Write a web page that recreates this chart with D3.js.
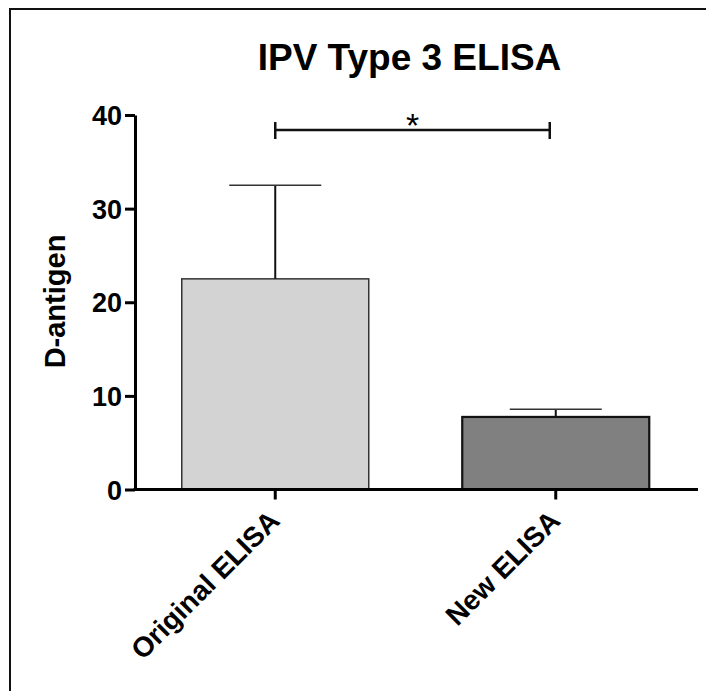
<!DOCTYPE html>
<meta charset="utf-8">
<style>
body { margin: 0; background: #fff; }
text { font-family: "Liberation Sans", Arial, Helvetica, sans-serif; font-weight: bold; fill: #000; }
</style>
<svg width="706" height="691"></svg>
<script src="https://d3js.org/d3.v7.min.js"></script>
<script>

var categories = ["Original ELISA", "New ELISA"];
var means = [22.5, 7.75];
var errors = [10.0, 0.82];
var barFills = ["#d3d3d3", "#808080"];
var yTicks = [0, 10, 20, 30, 40];

var svg = d3.select("svg");

// frame round the whole figure
svg.append("rect")
    .attr("x", 10).attr("y", 9)
    .attr("width", 760).attr("height", 760)
    .attr("fill", "none")
    .attr("stroke", "#111")
    .attr("stroke-width", 2);

var x = d3.scaleBand()
    .domain(categories)
    .range([135, 696])
    .paddingInner(1 / 3)
    .paddingOuter(1 / 6);

var y = d3.scaleLinear()
    .domain([0, 40])
    .range([489.5, 115]);

function cx(d) { return x(d) + x.bandwidth() / 2; }

// bars
svg.append("g").selectAll("rect")
    .data(categories)
    .enter().append("rect")
    .attr("x", function(d) { return x(d); })
    .attr("y", function(d, i) { return y(means[i]); })
    .attr("width", x.bandwidth())
    .attr("height", function(d, i) { return y(0) - y(means[i]); })
    .attr("fill", function(d, i) { return barFills[i]; })
    .attr("stroke", function(d, i) { return i == 0 ? "#333" : "#111"; })
    .attr("stroke-width", function(d, i) { return i == 0 ? 1.5 : 2.2; });

// error bars (upper only)
var err = svg.append("g").selectAll("g")
    .data(categories)
    .enter().append("g");

err.append("line")
    .attr("x1", cx).attr("x2", cx)
    .attr("y1", function(d, i) { return y(means[i]); })
    .attr("y2", function(d, i) { return y(means[i] + errors[i]); })
    .attr("stroke", "#111")
    .attr("stroke-width", 2);

err.append("line")
    .attr("x1", function(d) { return cx(d) - 46; })
    .attr("x2", function(d) { return cx(d) + 46; })
    .attr("y1", function(d, i) { return y(means[i] + errors[i]); })
    .attr("y2", function(d, i) { return y(means[i] + errors[i]); })
    .attr("stroke", "#333")
    .attr("stroke-width", 1.5);

// y axis
var yAxis = svg.append("g")
    .attr("transform", "translate(135,0)")
    .call(d3.axisLeft(y).tickValues(yTicks).tickSize(10).tickSizeOuter(0).tickPadding(3));

yAxis.select(".domain").attr("stroke", "#000").attr("stroke-width", 3);
yAxis.selectAll(".tick line").attr("stroke", "#000").attr("stroke-width", 3);
yAxis.selectAll(".tick text")
    .style("font-size", "27px")
    .attr("dy", "0.36em");

// x axis
var xAxis = svg.append("g")
    .attr("transform", "translate(0," + y(0) + ")")
    .call(d3.axisBottom(x).tickSize(10).tickSizeOuter(0));

xAxis.select(".domain").attr("stroke", "#000").attr("stroke-width", 3)
    .attr("d", "M133.5,0H698");
xAxis.selectAll(".tick line").attr("stroke", "#000").attr("stroke-width", 3);
xAxis.selectAll(".tick text")
    .style("font-size", "28px")
    .attr("text-anchor", "end")
    .attr("y", 0).attr("dy", 0)
    .attr("transform", "translate(6,33) rotate(-45)");

// y title
svg.append("text")
    .attr("transform", "translate(65,301.5) rotate(-90)")
    .attr("text-anchor", "middle")
    .style("font-size", "29px")
    .text("D-antigen");

// chart title
svg.append("text")
    .attr("x", 409.5).attr("y", 70)
    .attr("text-anchor", "middle")
    .style("font-size", "37px")
    .text("IPV Type 3 ELISA");

// significance bracket
var bx1 = cx(categories[0]), bx2 = cx(categories[1]) - 6, by = 130;
var bracket = svg.append("g").attr("stroke", "#111").attr("stroke-width", 2.5);
bracket.append("line").attr("x1", bx1).attr("x2", bx2).attr("y1", by).attr("y2", by);
bracket.append("line").attr("x1", bx1).attr("x2", bx1).attr("y1", by - 8).attr("y2", by + 9);
bracket.append("line").attr("x1", bx2).attr("x2", bx2).attr("y1", by - 8).attr("y2", by + 9);

svg.append("text")
    .attr("x", (bx1 + bx2) / 2).attr("y", 137)
    .attr("text-anchor", "middle")
    .style("font-size", "34px")
    .style("font-weight", "normal")
    .text("*");

</script>
